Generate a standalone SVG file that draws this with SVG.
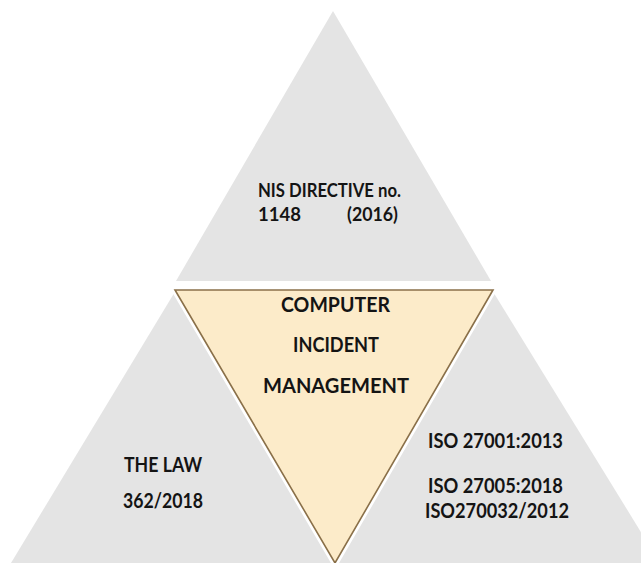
<svg xmlns="http://www.w3.org/2000/svg" width="641" height="563" viewBox="0 0 641 563">
  <style>
    .side { fill: #e4e4e4; }
    .core { fill: #fcebc9; stroke: #8a7049; stroke-width: 1.6; stroke-linejoin: miter; }
    .halo { fill: none; stroke: #ffffff; stroke-width: 7; stroke-linejoin: miter; }
    .t { font-family: Lato, "Open Sans", "Liberation Sans", sans-serif; font-weight: 700; fill: #141414; }
  </style>
  <rect width="641" height="563" fill="#ffffff"/>
  <g id="top-nis">
    <polygon class="side" points="333,11 491,281 176,281"/>
    <text class="t" font-size="19.5" x="258" y="197" textLength="143" lengthAdjust="spacingAndGlyphs">NIS DIRECTIVE no.</text>
    <text class="t" font-size="19.5" y="221"><tspan x="258" textLength="43" lengthAdjust="spacingAndGlyphs">1148</tspan><tspan x="347" textLength="51" lengthAdjust="spacingAndGlyphs">(2016)</tspan></text>
  </g>
  <g id="left-law">
    <polygon class="side" points="176,290 343,563 11,563"/>
    <text class="t" font-size="20.5" x="124" y="472" textLength="78" lengthAdjust="spacingAndGlyphs">THE LAW</text>
    <text class="t" font-size="20.5" x="123" y="508" textLength="80" lengthAdjust="spacingAndGlyphs">362/2018</text>
  </g>
  <g id="right-iso">
    <polygon class="side" points="492,290 660,563 327,563"/>
    <text class="t" font-size="20.5" x="428" y="448" textLength="135" lengthAdjust="spacingAndGlyphs">ISO 27001:2013</text>
    <text class="t" font-size="20.5" x="428" y="493" textLength="135" lengthAdjust="spacingAndGlyphs">ISO 27005:2018</text>
    <text class="t" font-size="20.5" x="425" y="518" textLength="144" lengthAdjust="spacingAndGlyphs">ISO270032/2012</text>
  </g>
  <g id="center-cim">
    <polygon class="halo" points="175,290 493,290 335,563"/>
    <polygon class="core" points="175,290 493,290 335,563"/>
    <text class="t" font-size="21.5" x="281" y="312" textLength="109" lengthAdjust="spacingAndGlyphs">COMPUTER</text>
    <text class="t" font-size="21.5" x="293" y="352" textLength="86" lengthAdjust="spacingAndGlyphs">INCIDENT</text>
    <text class="t" font-size="21.5" x="263" y="393" textLength="146" lengthAdjust="spacingAndGlyphs">MANAGEMENT</text>
  </g>
</svg>
